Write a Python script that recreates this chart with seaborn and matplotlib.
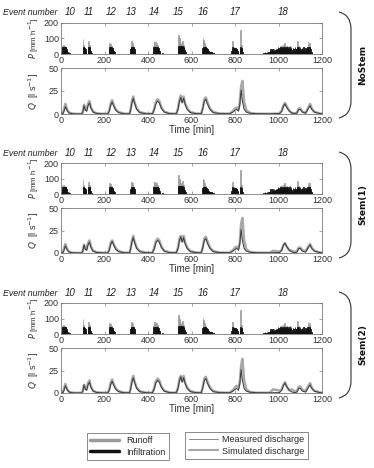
import numpy as np
import pandas as pd
import matplotlib
matplotlib.use("Agg")
import matplotlib.pyplot as plt
from matplotlib.path import Path
from matplotlib.patches import PathPatch
from matplotlib.lines import Line2D
import seaborn as sns

# ---- rainfall (3-min steps), per event block: start time, total P, infiltrated part
rain_start = [3, 99, 123, 219, 318, 423, 537, 648, 783, 822, 930]
rain_total = [
    [25, 52, 55, 48, 50, 46, 42, 30, 12, 0, 0, 14, 6],
    [95, 60, 45, 40, 30, 15],
    [50, 80, 60, 45, 20, 8],
    [40, 70, 65, 55, 50, 40, 30, 20, 10],
    [30, 60, 80, 70, 50, 45, 30, 15],
    [50, 80, 75, 60, 80, 70, 55, 45, 40, 20, 10, 0, 0, 0, 8],
    [60, 120, 100, 90, 70, 60, 50, 85, 60, 40, 25, 10],
    [40, 105, 90, 70, 60, 50, 40, 35, 30, 25, 20, 15, 12, 12, 10, 10, 8, 6],
    [20, 80, 50, 45, 40, 35, 40, 30, 30, 20, 10],
    [40, 155, 60, 30, 10],
    [8, 0, 10, 6, 0, 12, 8, 0, 10, 15, 20, 30, 15, 25, 35, 20, 30, 18, 25, 35,
     25, 35, 45, 30, 40, 35, 50, 45, 55, 40, 60, 45, 70, 55, 40, 50, 35, 45, 30, 40,
     50, 30, 45, 25, 15, 40, 30, 20, 45, 35, 30, 55, 85, 50, 40, 30, 45, 20, 35, 40,
     25, 45, 30, 20, 40, 35, 30, 45, 80, 60, 70, 45, 30, 15, 5],
]
rain_infil = [
    [25, 45, 45, 45, 45, 44, 42, 30, 12, 0, 0, 14, 6],
    [45, 45, 42, 38, 30, 15],
    [45, 45, 45, 42, 20, 8],
    [40, 45, 45, 45, 45, 40, 30, 20, 10],
    [30, 45, 45, 45, 45, 42, 30, 15],
    [45, 45, 45, 45, 45, 45, 45, 42, 38, 20, 10, 0, 0, 0, 8],
    [45, 50, 50, 50, 50, 50, 45, 50, 45, 40, 25, 10],
    [38, 45, 45, 45, 45, 45, 40, 35, 30, 25, 20, 15, 12, 12, 10, 10, 8, 6],
    [20, 42, 40, 40, 38, 35, 38, 30, 30, 20, 10],
    [38, 42, 40, 30, 10],
    [8, 0, 10, 6, 0, 12, 8, 0, 10, 15, 20, 30, 15, 25, 35, 20, 30, 18, 25, 35,
     25, 35, 42, 30, 40, 35, 42, 42, 42, 40, 42, 42, 42, 42, 40, 42, 35, 42, 30, 40,
     42, 30, 42, 25, 15, 40, 30, 20, 42, 35, 30, 42, 42, 42, 40, 30, 42, 20, 35, 40,
     25, 42, 30, 20, 40, 35, 30, 42, 42, 42, 42, 42, 30, 15, 5],
]

# ---- discharge [l/s]
q_time = [0, 8, 14, 20, 24, 30, 38, 50, 70,
          95, 100, 106, 112, 118, 124, 131, 138, 148, 165, 190,
          215, 222, 228, 235, 242, 252, 265, 290,
          315, 320, 326, 332, 338, 348, 362, 390,
          420, 428, 436, 444, 452, 462, 475, 500,
          530, 538, 545, 551, 557, 564, 570, 580, 595, 620,
          645, 652, 659, 666, 673, 685, 700, 730,
          775, 790, 800, 808, 816, 822, 828, 834, 842, 852, 870, 900,
          960, 975, 990, 1005, 1015, 1022, 1030, 1038, 1050, 1062, 1075,
          1085, 1093, 1100, 1110, 1125, 1137, 1145, 1153, 1165, 1190, 1200]
q_measured = [0, 0.3, 3, 8, 6, 3, 1, 0.3, 0.1,
              0.1, 2, 9, 4, 3, 9, 12, 6, 2, 0.5, 0.2,
              0.1, 3, 9, 13, 9, 4, 1.5, 0.3,
              0.2, 4, 12, 17, 12, 5, 1.5, 0.3,
              0.2, 4, 11, 14, 12, 6, 2, 0.4,
              0.3, 5, 14, 18, 12, 17, 11, 5, 1.5, 0.4,
              0.3, 6, 14, 16, 11, 5, 1.5, 0.4,
              0.3, 2, 4, 5, 3, 10, 26, 14, 5, 2, 0.8, 0.3,
              0.2, 0.3, 0.4, 0.5, 3, 8, 11, 7, 3, 1, 0.5,
              1, 5, 5, 2, 1, 6, 9, 5, 2, 0.5, 0.2]
q_sim_nostem = [0, 0.5, 5, 11, 8, 4, 1.5, 0.5, 0.1,
                0.1, 2, 10, 5, 4, 11, 14, 7, 2.5, 0.7, 0.2,
                0.1, 4, 11, 15, 10, 5, 2, 0.4,
                0.2, 5, 14, 19, 13, 6, 2, 0.4,
                0.2, 5, 13, 16, 14, 7, 2.5, 0.5,
                0.3, 6, 16, 20, 13, 19, 12, 6, 2, 0.5,
                0.3, 7, 16, 18, 13, 6, 2, 0.5,
                0.3, 3, 6, 7, 5, 12, 30, 36, 13, 4, 1, 0.3,
                0.2, 0.3, 0.4, 0.5, 3.5, 9, 12, 8, 3.5, 1, 0.6,
                1.5, 6, 6, 2.5, 1.2, 7, 11, 6, 2.5, 0.6, 0.2]
q_sim_stem1 = [0, 0.5, 5, 10, 7, 3.5, 1.3, 0.4, 0.1,
               0.1, 2, 9, 5, 4, 11, 14, 7, 2.5, 0.7, 0.2,
               0.1, 4, 11, 14, 10, 5, 2, 0.4,
               0.2, 5, 14, 19, 13, 6, 2, 0.4,
               0.2, 5, 13, 16, 14, 7, 2.5, 0.5,
               0.3, 6, 16, 19, 13, 19, 12, 6, 2, 0.5,
               0.3, 7, 16, 18, 13, 6, 2, 0.5,
               0.3, 3, 6, 7, 5, 12, 32, 39, 14, 4, 1, 0.3,
               0.3, 2.5, 2, 1.5, 3.5, 9, 11, 7, 3, 2.5, 1,
               2, 6, 6, 3, 2, 7, 10, 6, 2.5, 0.6, 0.2]
q_sim_stem2 = [0, 0.5, 5, 10, 7, 3.5, 1.3, 0.4, 0.1,
               0.1, 2, 9, 5, 4, 11, 14, 7, 2.5, 0.7, 0.2,
               0.1, 4, 11, 15, 10, 5, 2, 0.4,
               0.2, 5, 14, 19, 13, 6, 2, 0.4,
               0.2, 5, 13, 16, 14, 7, 2.5, 0.5,
               0.3, 6, 16, 19, 13, 19, 12, 6, 2, 0.5,
               0.3, 7, 16, 18, 13, 6, 2, 0.5,
               0.3, 3, 6, 8, 6, 12, 30, 38, 14, 4, 1, 0.3,
               0.3, 4, 3.5, 2.5, 4, 9, 12, 7, 3, 4, 1.5,
               2, 7, 7, 3.5, 2, 8, 11, 6, 2.5, 0.6, 0.2]

event_labels = ["10", "11", "12", "13", "14", "15", "16", "17", "18"]
event_pos = [41, 129, 230, 322, 428, 538, 653, 800, 1020]
model_names = ["NoStem", "Stem(1)", "Stem(2)"]
model_sims = [q_sim_nostem, q_sim_stem1, q_sim_stem2]

# rainfall table
rows = []
for start, tot, inf in zip(rain_start, rain_total, rain_infil):
    for i, (a, b) in enumerate(zip(tot, inf)):
        rows.append((start + 3 * i + 1.5, a, b))
rain = pd.DataFrame(rows, columns=["t", "total", "infil"])

sns.set_style("ticks")
plt.rcParams["font.family"] = ["Liberation Sans", "DejaVu Sans"]
plt.rcParams["xtick.direction"] = "in"
plt.rcParams["ytick.direction"] = "in"

C_RUN = "#9a9a9a"
C_INF = "#111111"
C_MEAS = "#3a3a3a"
C_SIM = "#a8a8a8"
C_AX = "#7a7a7a"
C_TXT = "#333333"
FS = 6.5

fig = plt.figure(figsize=(3.74, 4.68), dpi=100)
W, H = 374.0, 468.0
L, R = 61, 322

p_boxes = [(22.7, 54), (163, 194), (303, 334)]
q_boxes = [(68, 114), (208, 253), (348, 393)]


def style(ax, yt):
    ax.set_xlim(0, 1200)
    ax.set_xticks(range(0, 1201, 200))
    ax.set_yticks(yt)
    ax.tick_params(axis="both", labelsize=FS, colors=C_AX, labelcolor=C_TXT,
                   length=2, width=0.5, top=True, right=True, pad=1.5)
    for s in ax.spines.values():
        s.set_visible(True)
        s.set_color(C_AX)
        s.set_linewidth(0.6)
    ax.set_xlabel("")


for k in range(3):
    pt, pb = p_boxes[k]
    axp = fig.add_axes([L / W, 1 - pb / H, (R - L) / W, (pb - pt) / H])
    sns.histplot(data=rain, x="t", weights="total", binwidth=3, binrange=(0, 1200),
                 ax=axp, color=C_RUN, alpha=1, linewidth=0.5, edgecolor=C_RUN)
    sns.histplot(data=rain, x="t", weights="infil", binwidth=3, binrange=(0, 1200),
                 ax=axp, color=C_INF, alpha=1, linewidth=0.5, edgecolor=C_INF)
    axp.set_ylim(0, 200)
    style(axp, [0, 100, 200])
    axp.set_ylabel("$P$ [mm h$^{-1}$]", fontsize=5.8, color=C_TXT, labelpad=2)

    for lab, x in zip(event_labels, event_pos):
        axp.annotate(lab, xy=(x, 1), xycoords=("data", "axes fraction"),
                     xytext=(0, 7.5), textcoords="offset points",
                     ha="center", va="center", fontsize=7, style="italic",
                     color="#222222")
    fig.text(57 / W, 1 - (pt - 10) / H, "Event number", ha="right", va="center",
             fontsize=6.3, style="italic", color="#222222")

    qt, qb = q_boxes[k]
    axq = fig.add_axes([L / W, 1 - qb / H, (R - L) / W, (qb - qt) / H])
    sns.lineplot(x=q_time, y=model_sims[k], ax=axq, color=C_SIM, linewidth=1.8,
                 estimator=None, sort=False)
    sns.lineplot(x=q_time, y=q_measured, ax=axq, color=C_MEAS, linewidth=0.7,
                 estimator=None, sort=False)
    axq.set_ylim(0, 50)
    style(axq, [0, 25, 50])
    axq.set_ylabel("$Q$  [l s$^{-1}$]", fontsize=FS, color=C_TXT, labelpad=6)
    axq.set_xlabel("Time [min]", fontsize=FS + 0.5, color=C_TXT, labelpad=0)

# braces and model names
ov = fig.add_axes([0, 0, 1, 1], zorder=-1)
ov.set_xlim(0, W)
ov.set_ylim(H, 0)
ov.axis("off")
brace_top = [12, 152, 292]
brace_bot = [118, 258, 398]
for k in range(3):
    t, b = brace_top[k], brace_bot[k]
    verts = [(339, t), (351, t + 3), (351, t + 17), (351, b - 17),
             (351, b - 3), (339, b)]
    codes = [Path.MOVETO, Path.CURVE3, Path.CURVE3, Path.LINETO,
             Path.CURVE3, Path.CURVE3]
    ov.add_patch(PathPatch(Path(verts, codes), fill=False, edgecolor="#333333",
                           linewidth=0.8))
    ov.text(363, (t + b) / 2, model_names[k], rotation=90, ha="center",
            va="center", fontsize=6.5, fontweight="bold",
            family="DejaVu Sans", color="#111111")

# legends
h1 = [Line2D([], [], color=C_RUN, lw=2.5), Line2D([], [], color=C_INF, lw=2.5)]
leg1 = fig.legend(h1, ["Runoff", "Infiltration"], loc="center",
                  bbox_to_anchor=(128 / W, 1 - 446.5 / H), fontsize=FS,
                  frameon=True, fancybox=False, edgecolor="#555555",
                  handlelength=3.2, handletextpad=0.8, borderpad=0.4,
                  labelspacing=0.25)
leg1.get_frame().set_linewidth(0.6)
h2 = [Line2D([], [], color="#888888", lw=0.7), Line2D([], [], color=C_SIM, lw=1.5)]
leg2 = fig.legend(h2, ["Measured discharge", "Simulated discharge"], loc="center",
                  bbox_to_anchor=(246.5 / W, 1 - 445.5 / H), fontsize=FS,
                  frameon=True, fancybox=False, edgecolor="#555555",
                  handlelength=3.2, handletextpad=0.5, borderpad=0.4,
                  labelspacing=0.25)
leg2.get_frame().set_linewidth(0.6)

plt.savefig("out.png", dpi=100)
